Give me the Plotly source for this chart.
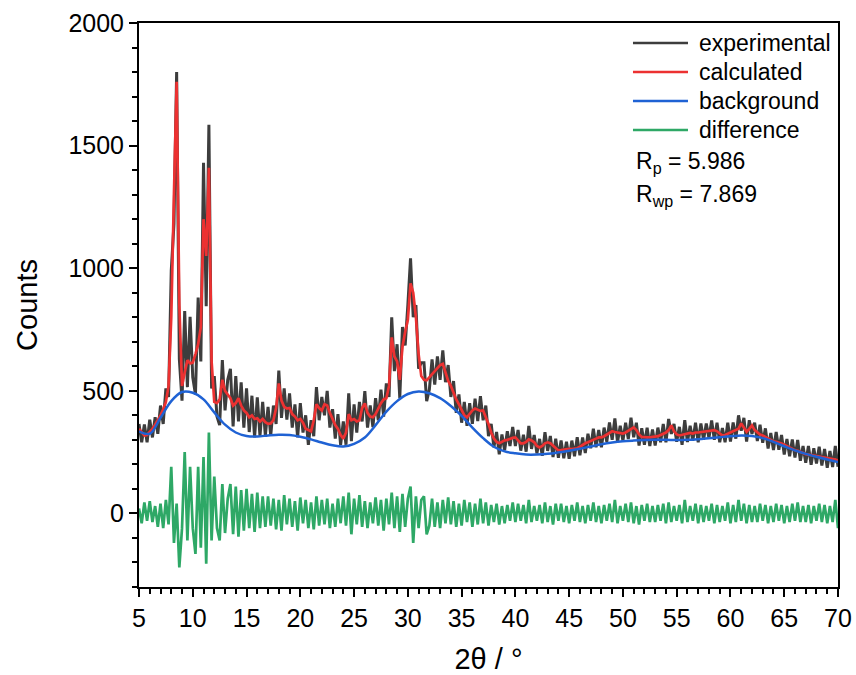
import plotly.graph_objects as go

# Sampling of the pattern: 2-theta start (deg) and step (deg)
TT_START = 5.0
TT_STEP = 0.25

# calculated profile, one row per degree (x.00, x.25, x.50, x.75), last value at 70
calculated = [
    345, 330, 318, 320,
    332, 345, 362, 380,
    400, 425, 455, 520,
    800, 1300, 1760, 850,
    520, 575, 625, 612,
    615, 650, 690, 760,
    1200, 1050, 1410, 620,
    455, 450, 465, 545,
    500, 485, 470, 440,
    450, 470, 440, 420,
    410, 392, 400, 385,
    388, 375, 385, 372,
    365, 367, 380, 430,
    530, 460, 435, 428,
    430, 405, 395, 380,
    385, 370, 345, 340,
    335, 380, 445, 430,
    420, 445, 440, 410,
    385, 360, 345, 320,
    305, 330, 405, 380,
    385, 375, 380, 430,
    449, 410, 395, 392,
    405, 430, 450, 465,
    470, 520, 718, 640,
    620, 545, 680, 740,
    790, 938, 900, 800,
    650, 560, 545, 543,
    555, 568, 580, 595,
    605, 610, 575, 540,
    520, 490, 465, 445,
    420, 400, 392, 405,
    420, 428, 422, 418,
    420, 395, 365, 330,
    305, 292, 286, 292,
    298, 300, 305, 308,
    310, 300, 286, 286,
    292, 302, 298, 290,
    275, 269, 275, 286,
    290, 286, 275, 265,
    257, 258, 260, 262,
    263, 262, 263, 266,
    272, 280, 286, 290,
    296, 300, 305, 310,
    310, 315, 322, 331,
    335, 332, 331, 328,
    326, 330, 338, 345,
    351, 340, 322, 312,
    310, 310, 310, 312,
    312, 315, 320, 325,
    330, 340, 359, 335,
    322, 318, 320, 325,
    326, 328, 326, 330,
    330, 332, 335, 337,
    338, 339, 340, 335,
    325, 318, 320, 325,
    333, 336, 340, 345,
    367, 350, 333, 345,
    359, 340, 330, 322,
    318, 312, 305, 298,
    294, 292, 290, 285,
    280, 274, 268, 262,
    258, 255, 250, 245,
    242, 240, 238, 236,
    234, 232, 230, 228,
    226, 225, 224, 220,
    216,
]

experimental = [
    365, 290, 363, 290,
    382, 310, 392, 325,
    440, 365, 510, 475,
    990, 1180, 1800, 630,
    460, 825, 515, 802,
    555, 485, 880, 620,
    1430, 845, 1585, 510,
    560, 395, 360, 625,
    420, 545, 590, 355,
    560, 375, 535, 350,
    510, 332, 480, 310,
    473, 315, 455, 317,
    435, 317, 440, 365,
    583, 390, 510, 383,
    490, 350, 445, 310,
    450, 330, 400, 280,
    380, 315, 515, 380,
    475, 400, 500, 350,
    425, 305, 405, 280,
    375, 280, 490, 295,
    445, 330, 455, 375,
    499, 350, 440, 352,
    470, 380, 505, 395,
    530, 475, 800, 580,
    690, 470, 760, 685,
    850, 1040, 800, 850,
    590, 615, 615, 458,
    505, 628, 525, 640,
    545, 665, 535, 605,
    475, 540, 410, 485,
    370, 455, 357, 450,
    365, 468, 377, 478,
    380, 440, 315, 365,
    270, 332, 241, 322,
    258, 335, 275, 353,
    275, 340, 256, 321,
    252, 357, 263, 320,
    245, 304, 235, 331,
    255, 316, 230, 305,
    227, 298, 225, 292,
    223, 297, 233, 311,
    237, 310, 246, 325,
    266, 345, 270, 340,
    270, 350, 292, 371,
    300, 387, 291, 358,
    296, 370, 303, 390,
    311, 370, 277, 347,
    280, 350, 275, 342,
    277, 350, 290, 365,
    290, 385, 324, 365,
    292, 353, 280, 380,
    291, 358, 296, 370,
    290, 367, 300, 367,
    308, 379, 300, 370,
    290, 348, 290, 370,
    293, 371, 305, 400,
    337, 390, 293, 380,
    324, 370, 295, 362,
    288, 347, 265, 328,
    259, 332, 260, 320,
    240, 304, 233, 302,
    228, 300, 215, 275,
    207, 275, 198, 266,
    204, 272, 195, 263,
    186, 255, 189, 275,
    190,
]

difference = [
    20, -40, 45, -30,
    50, -35, 30, -55,
    40, -60, 55, -45,
    190, -120, 40, -220,
    -60, 250, -110, 190,
    -60, -165, 190, -140,
    230, -205, 330, -110,
    150, -60, -110, 120,
    -80, 60, 120, -85,
    110, -95, 95, -70,
    100, -60, 80, -75,
    85, -60, 70, -55,
    70, -50, 60, -65,
    55, -70, 75, -45,
    60, -55, 50, -70,
    65, -40, 55, -60,
    45, -65, 70, -50,
    55, -45, 60, -60,
    40, -55, 60, -40,
    70, -50, 85, -85,
    60, -45, 75, -55,
    50, -60, 45, -40,
    65, -50, 55, -70,
    60, -45, 85, -60,
    70, -75, 80, -55,
    60, 110, -120, 70,
    -60, 55, 70, -85,
    -50, 60, -55, 45,
    -60, 55, -40, 65,
    -45, 50, -55, 40,
    -50, 55, -35, 45,
    -55, 40, -45, 60,
    -40, 45, -50, 35,
    -35, 40, -45, 30,
    -40, 35, -30, 45,
    -35, 40, -30, 35,
    -40, 55, -35, 30,
    -30, 35, -40, 45,
    -35, 30, -45, 40,
    -30, 40, -35, 30,
    -40, 35, -30, 45,
    -35, 30, -40, 35,
    -30, 45, -35, 30,
    -40, 35, -30, 40,
    -35, 55, -40, 30,
    -30, 40, -35, 45,
    -40, 30, -45, 35,
    -30, 40, -35, 30,
    -35, 35, -30, 40,
    -40, 45, -35, 30,
    -30, 35, -40, 55,
    -35, 30, -30, 40,
    -40, 35, -35, 30,
    -30, 40, -40, 35,
    -35, 30, -30, 45,
    -40, 35, -35, 55,
    -30, 40, -40, 35,
    -35, 30, -35, 40,
    -30, 35, -40, 30,
    -35, 40, -30, 35,
    -40, 30, -35, 40,
    -30, 45, -35, 30,
    -35, 35, -40, 30,
    -30, 40, -35, 35,
    -40, 30, -35, 55,
    -60,
]

# background, sampled every 1 degree from 5 to 70
bg_two_theta = list(range(5, 71))
background = [
    335, 325, 390, 458, 495, 492, 465, 412, 362, 330,
    316, 314, 318, 321, 320, 313, 302, 289, 278, 273,
    284, 310, 360, 415, 458, 487, 497, 490, 470, 438,
    398, 350, 307, 272, 253, 245, 240, 240, 243, 249,
    256, 264, 273, 282, 289, 294, 297, 299, 300, 300,
    299, 300, 303, 307, 311, 315, 318, 316, 307, 292,
    274, 257, 243, 231, 220, 210,
]

series_names = ["experimental", "calculated", "background", "difference"]
series_colors = ["#3d3d3d", "#ec3131", "#1f62d4", "#2ea866"]
r_p = "5.986"
r_wp = "7.869"

two_theta = [TT_START + TT_STEP * i for i in range(len(calculated))]

FONT = "Liberation Sans, Arial, sans-serif"

fig = go.Figure()
fig.add_trace(go.Scatter(x=two_theta, y=experimental, mode="lines", name=series_names[0],
                         line=dict(color=series_colors[0], width=3.0), showlegend=False))
fig.add_trace(go.Scatter(x=two_theta, y=calculated, mode="lines", name=series_names[1],
                         line=dict(color=series_colors[1], width=2.7), showlegend=False))
fig.add_trace(go.Scatter(x=bg_two_theta, y=background, mode="lines", name=series_names[2],
                         line=dict(color=series_colors[2], width=2.5, shape="spline", smoothing=1.0),
                         showlegend=False))
fig.add_trace(go.Scatter(x=two_theta, y=difference, mode="lines", name=series_names[3],
                         line=dict(color=series_colors[3], width=2.7), showlegend=False))

axis_common = dict(
    showline=True, linecolor="black", linewidth=2, mirror=True,
    ticks="outside", ticklen=8, tickwidth=2, tickcolor="black",
    showgrid=False, zeroline=False, automargin=False,
    tickfont=dict(family=FONT, size=25, color="black"),
)

fig.update_xaxes(
    range=[5, 70], tick0=5, dtick=5,
    minor=dict(dtick=1, ticklen=5, tickwidth=1.5, tickcolor="black", ticks="outside", showgrid=False),
    title=dict(text="2θ / °", font=dict(family=FONT, size=29, color="black"), standoff=18),
    **axis_common,
)
fig.update_yaxes(
    range=[-300, 2000], tick0=0, dtick=500,
    minor=dict(dtick=100, ticklen=5, tickwidth=1.5, tickcolor="black", ticks="outside", showgrid=False),
    title=dict(text="Counts", font=dict(family=FONT, size=29, color="black"), standoff=22),
    **axis_common,
)

# legend drawn in the upper right corner (paper coordinates)
LEG_LINE_X0, LEG_LINE_X1, LEG_TEXT_X = 0.7067, 0.7854, 0.7983
LEG_Y = [0.9645, 0.9131, 0.8617, 0.8103]
for name, color, yy in zip(series_names, series_colors, LEG_Y):
    fig.add_shape(type="line", xref="paper", yref="paper",
                  x0=LEG_LINE_X0, x1=LEG_LINE_X1, y0=yy, y1=yy,
                  line=dict(color=color, width=2.5))
    fig.add_annotation(text=name, xref="paper", yref="paper", x=LEG_TEXT_X, y=yy,
                       xanchor="left", yanchor="middle", showarrow=False,
                       font=dict(family=FONT, size=23, color="black"))

fig.add_annotation(text=f"R<sub>p</sub> = {r_p}", xref="paper", yref="paper",
                   x=0.7082, y=0.7518, xanchor="left", yanchor="middle", showarrow=False,
                   font=dict(family=FONT, size=23, color="black"))
fig.add_annotation(text=f"R<sub>wp</sub> = {r_wp}", xref="paper", yref="paper",
                   x=0.7082, y=0.695, xanchor="left", yanchor="middle", showarrow=False,
                   font=dict(family=FONT, size=23, color="black"))

fig.update_layout(
    width=856, height=675,
    margin=dict(l=139, r=18, t=23, b=88),
    paper_bgcolor="white", plot_bgcolor="white",
    font=dict(family=FONT, color="black"),
    showlegend=False,
)

fig.write_html("out.html")
